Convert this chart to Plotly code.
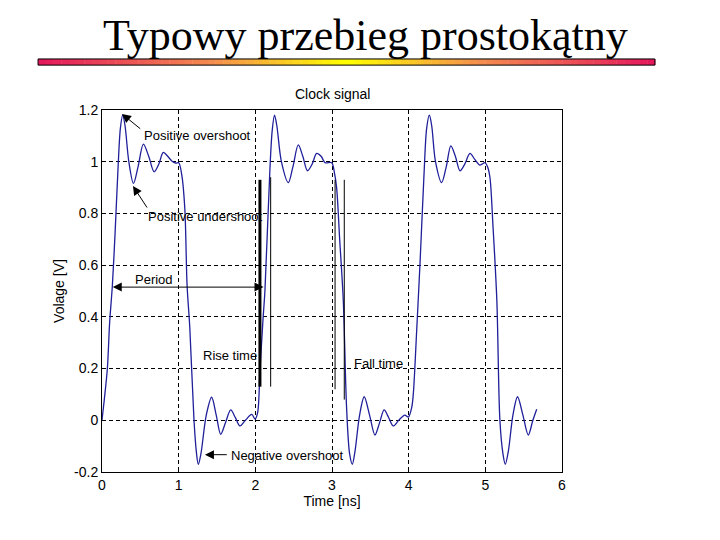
import plotly.graph_objects as go

# ---- data ----
time_ns = [
    0.00, 0.03, 0.07, 0.10, 0.135, 0.17, 0.21, 0.24, 0.27, 0.30, 0.35, 0.41, 0.47, 0.54, 0.61, 0.68,
    0.74, 0.80, 0.86, 0.91, 0.96, 1.00, 1.04, 1.08, 1.11, 1.145, 1.20, 1.23, 1.256, 1.29, 1.36,
    1.43, 1.49, 1.548, 1.61, 1.679, 1.74, 1.80, 1.87, 1.953, 1.996, 2.03, 2.06, 2.10, 2.125,
    2.19, 2.22, 2.25, 2.28, 2.34, 2.43, 2.49, 2.56, 2.62, 2.68, 2.74, 2.80, 2.86, 2.91, 2.996,
    3.03, 3.06, 3.10, 3.147, 3.19, 3.23, 3.265, 3.30, 3.36, 3.42, 3.49, 3.56, 3.62, 3.68, 3.74,
    3.80, 3.87, 3.95, 3.996, 4.04, 4.06, 4.105, 4.15, 4.20, 4.235, 4.27, 4.30, 4.35, 4.43, 4.49,
    4.55, 4.61, 4.67, 4.73, 4.80, 4.86, 4.93, 4.996, 5.03, 5.06, 5.10, 5.15, 5.19, 5.23, 5.26,
    5.30, 5.36, 5.42, 5.49, 5.56, 5.62, 5.67,
]
voltage_v = [
    0.00, 0.08, 0.20, 0.38, 0.52, 0.72, 0.98, 1.13, 1.18, 1.14, 1.00, 0.916, 0.98, 1.068, 1.02, 0.961,
    0.99, 1.036, 1.02, 1.003, 0.995, 0.996, 0.95, 0.82, 0.52, 0.36, 0.00, -0.12, -0.17, -0.13, 0.02,
    0.089, 0.02, -0.054, -0.01, 0.040, 0.01, -0.022, 0.00, 0.023, 0.005, 0.03, 0.19, 0.39, 0.50,
    0.97, 1.12, 1.18, 1.14, 1.00, 0.919, 0.98, 1.065, 1.02, 0.965, 0.99, 1.032, 1.02, 0.996, 0.996,
    0.96, 0.90, 0.70, 0.465, 0.05, -0.13, -0.170, -0.12, 0.02, 0.091, 0.02, -0.057, -0.01, 0.040, 0.01,
    -0.022, 0.00, 0.02, 0.012, 0.05, 0.10, 0.35, 0.62, 0.95, 1.13, 1.18, 1.14, 1.00, 0.919, 0.98,
    1.061, 1.02, 0.965, 0.99, 1.032, 1.01, 0.987, 0.996, 0.98, 0.94, 0.75, 0.465, 0.00, -0.13, -0.17,
    -0.12, 0.02, 0.091, 0.02, -0.057, 0.00, 0.043,
]

x_ticks = [0, 1, 2, 3, 4, 5, 6]
y_ticks = [-0.2, 0, 0.2, 0.4, 0.6, 0.8, 1.0, 1.2]
y_tick_labels = ["-0.2", "0", "0.2", "0.4", "0.6", "0.8", "1", "1.2"]

# marker lines for rise / fall time: (t, v_bottom, v_top, width)
rise_lines = [(2.06, 0.13, 0.93, 3), (2.20, 0.13, 0.94, 1)]
fall_lines = [(3.04, 0.12, 0.93, 1), (3.16, 0.08, 0.93, 1)]

# text labels: (text, t, v, xanchor)
labels = [
    ("Positive overshoot", 0.518, 1.103, "left"),
    ("Positive undershoot", 0.574, 0.787, "left"),
    ("Period", 0.40, 0.545, "left"),
    ("Rise time", 1.287, 0.249, "left"),
    ("Fall time", 3.265, 0.22, "left"),
    ("Negative overshoot", 1.66, -0.138, "left"),
]
# arrows: (head_t, head_v, tail_t, tail_v, both_ends)
arrows = [
    (0.261, 1.185, 0.518, 1.123, False),
    (0.404, 0.906, 0.60, 0.817, False),
    (0.14, 0.515, 2.126, 0.515, True),
    (1.343, -0.133, 1.647, -0.133, False),
]

main_title = "Typowy przebieg prostokątny"
plot_title = "Clock signal"
x_title = "Time [ns]"
y_title = "Volage [V]"

line_color = "#1f1f9a"

fig = go.Figure()
fig.add_trace(go.Scatter(
    x=time_ns, y=voltage_v, mode="lines",
    line=dict(color=line_color, width=1.3, shape="spline", smoothing=0.9),
    hoverinfo="skip", showlegend=False,
))

shapes = []
for (t, v0, v1, w) in rise_lines + fall_lines:
    shapes.append(dict(type="line", xref="x", yref="y", x0=t, x1=t, y0=v0, y1=v1,
                       line=dict(color="black", width=w)))

# gradient bar under the main title (paper coordinates)
bar_x0, bar_x1 = -0.139, 1.202
bar_y0, bar_y1 = 1.124, 1.141
stops = [(0.0, (228, 22, 92)), (0.28, (244, 140, 80)), (0.5, (255, 255, 0)),
         (0.72, (244, 140, 80)), (1.0, (228, 22, 92))]

def col(f):
    for i in range(len(stops) - 1):
        a, ca = stops[i]
        b, cb = stops[i + 1]
        if a <= f <= b:
            r = (f - a) / (b - a)
            c = [round(ca[k] + (cb[k] - ca[k]) * r) for k in range(3)]
            return f"rgb({c[0]},{c[1]},{c[2]})"
    return "rgb(228,22,92)"

n_seg = 80
for i in range(n_seg):
    f0 = i / n_seg
    f1 = (i + 1) / n_seg
    shapes.append(dict(type="rect", xref="paper", yref="paper",
                       x0=bar_x0 + (bar_x1 - bar_x0) * f0, x1=bar_x0 + (bar_x1 - bar_x0) * f1 + 0.001,
                       y0=bar_y0, y1=bar_y1, fillcolor=col((f0 + f1) / 2), line=dict(width=0),
                       layer="above"))
shapes.append(dict(type="rect", xref="paper", yref="paper", x0=bar_x0, x1=bar_x1,
                   y0=bar_y0, y1=bar_y1, line=dict(color="black", width=1), layer="above"))

annotations = []
for (txt, t, v, xa) in labels:
    annotations.append(dict(x=t, y=v, xref="x", yref="y", text=txt, showarrow=False,
                            xanchor=xa, yanchor="middle",
                            font=dict(family="Liberation Sans, Arial", size=13, color="black")))
for (ht, hv, tt, tv, both) in arrows:
    annotations.append(dict(x=ht, y=hv, ax=tt, ay=tv, xref="x", yref="y", axref="x", ayref="y",
                            text="", showarrow=True, arrowhead=2, arrowsize=1.8, arrowwidth=1,
                            arrowcolor="black", arrowside="end+start" if both else "end",
                            startarrowhead=2, startarrowsize=1.8, standoff=0, startstandoff=0))

annotations.append(dict(x=0.5, y=1.0, xref="paper", yref="paper", text=plot_title, showarrow=False,
                        xanchor="center", yanchor="bottom", yshift=6,
                        font=dict(family="Liberation Sans, Arial", size=14, color="black")))
annotations.append(dict(x=0.572, y=1.206, xref="paper", yref="paper", text=main_title, showarrow=False,
                        xanchor="center", yanchor="middle",
                        font=dict(family="Liberation Serif, Times New Roman", size=44, color="black")))

grid_style = dict(showgrid=True, gridcolor="black", gridwidth=1, griddash="4px,3px")

fig.update_layout(
    width=720, height=540,
    margin=dict(l=94, r=166, t=102, b=76),
    paper_bgcolor="white", plot_bgcolor="white",
    shapes=shapes, annotations=annotations,
    font=dict(family="Liberation Sans, Arial", size=14, color="black"),
    xaxis=dict(range=[0, 6], tickvals=x_ticks, ticktext=[str(v) for v in x_ticks],
               showline=True, linecolor="black", linewidth=1, mirror=True,
               ticks="inside", ticklen=4, tickcolor="black", zeroline=False,
               title=dict(text=x_title, standoff=2, font=dict(size=14)), **grid_style),
    yaxis=dict(range=[-0.2, 1.2], tickvals=y_ticks, ticktext=y_tick_labels,
               showline=True, linecolor="black", linewidth=1, mirror=True,
               ticks="inside", ticklen=4, tickcolor="black", zeroline=False,
               title=dict(text=y_title, standoff=6, font=dict(size=14)), **grid_style),
)

fig.write_html("out.html")
